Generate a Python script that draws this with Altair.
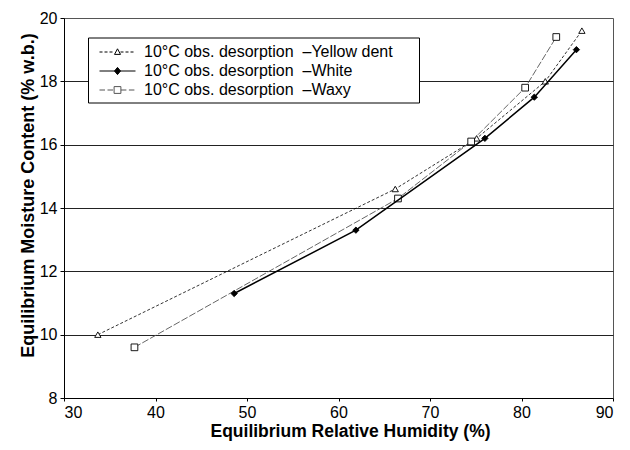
import altair as alt
import pandas as pd

series_names = ["Yellow dent", "White", "Waxy"]

yellow_rh = [33.7, 66.2, 75.1, 82.6, 86.6]
yellow_emc = [10.0, 14.6, 16.2, 18.0, 19.6]

white_rh = [48.6, 61.9, 76.0, 81.4, 86.0]
white_emc = [11.3, 13.3, 16.2, 17.5, 19.0]

waxy_rh = [37.7, 66.5, 74.5, 80.4, 83.8]
waxy_emc = [9.6, 14.3, 16.1, 17.8, 19.4]

x_ticks = [30, 40, 50, 60, 70, 80, 90]
y_ticks = [8, 10, 12, 14, 16, 18, 20]

rows = []
for name, xs, ys in zip(series_names, [yellow_rh, white_rh, waxy_rh], [yellow_emc, white_emc, waxy_emc]):
    for a, b in zip(xs, ys):
        rows.append({"series": name, "rh": a, "emc": b})
df = pd.DataFrame(rows)

FONT = "Liberation Sans"


# legend symbol paths (unit coords, scaled by sqrt(size)/2): line + marker
def dashed(x0, x1, dash, gap):
    out = []
    p = x0
    while p < x1 - 1e-9:
        q = min(p + dash, x1)
        out.append(f"M{p:.3f},0H{q:.3f}")
        p = q + gap
    return "".join(out)

L0, L1, MC = -1.0, 2.6, 0.8
tri = f"M{MC},-0.32L{MC+0.3},0.24L{MC-0.3},0.24Z"
dia = f"M{MC},-0.36L{MC+0.3},0L{MC},0.36L{MC-0.3},0Z"
sq = f"M{MC-0.34},-0.34H{MC+0.34}V0.34H{MC-0.34}Z"
path_yellow = dashed(L0, MC - 0.3, 0.3, 0.2) + dashed(MC + 0.3, L1, 0.3, 0.2) + tri
path_white = f"M{L0},0H{L1}" + dia
path_waxy = dashed(L0, MC - 0.34, 0.55, 0.25) + dashed(MC + 0.34, L1, 0.55, 0.25) + sq

x_enc = alt.X(
    "rh:Q",
    scale=alt.Scale(domain=[30, 90], nice=False),
    axis=alt.Axis(
        values=x_ticks, grid=False, title="Equilibrium Relative Humidity (%)",
        tickSize=3, labelPadding=3, titleX=286, titleY=38.5, titleFontSize=17.5,
        titleBaseline="alphabetic", titleAlign="center",
    ),
)
y_enc = alt.Y(
    "emc:Q",
    scale=alt.Scale(domain=[8, 20], nice=False),
    axis=alt.Axis(
        values=y_ticks, grid=True, gridColor="#222",
        gridOpacity={"condition": {"test": "datum.value === 20 || datum.value === 8", "value": 0}, "value": 1},
        title="Equilibrium Moisture Content (% w.b.)", titleFontSize=18,
        tickSize=4, labelPadding=3, titleX=-31, titleY=177,
        titleBaseline="alphabetic", titleAlign="center",
    ),
)

base = alt.Chart(df)


def series_layers(name, line_color, line_width, dash, shape, fill, size):
    b = base.transform_filter(alt.datum.series == name)
    lk = dict(color=line_color, strokeWidth=line_width)
    if dash:
        lk["strokeDash"] = dash
    line = b.mark_line(**lk).encode(x=x_enc, y=y_enc)
    pts = b.mark_point(shape=shape, filled=True, fill=fill, stroke="black",
                       strokeWidth=0.9, size=size, opacity=1).encode(x=x_enc, y=y_enc)
    return [line, pts]


layers = []
layers += series_layers("Yellow dent", "black", 0.8, [3, 2], "triangle-up", "white", 40)
layers += series_layers("Waxy", "#555", 0.9, [7, 2], "square", "white", 45)
layers += series_layers("White", "black", 1.5, None, "diamond", "black", 40)

leg = alt.Legend(
    title=None, orient="none", legendX=24, legendY=19.5,
    padding=4, strokeColor="black", fillColor="white",
    symbolSize=400, symbolStrokeWidth=1, symbolOpacity=1, symbolOffset=7,
    labelOffset=24, rowPadding=0, labelLimit=500,
    labelFont=FONT, labelFontSize=16, labelColor="black",
    labelExpr="'10°C obs. desorption\u00a0\u00a0–' + datum.label + '\u00a0\u00a0\u00a0\u00a0\u00a0\u200b'",
)

legend_layer = base.mark_point(filled=True, opacity=0, size=400).encode(
    x=x_enc, y=y_enc,
    shape=alt.Shape("series:N", scale=alt.Scale(domain=series_names, range=[path_yellow, path_white, path_waxy]), legend=leg),
    fill=alt.Fill("series:N", scale=alt.Scale(domain=series_names, range=["white", "black", "white"]), legend=leg),
    stroke=alt.Stroke("series:N", scale=alt.Scale(domain=series_names, range=["black", "black", "#555"]), legend=leg),
)

chart = alt.layer(*layers, legend_layer).properties(
    width=549, height=380,
    autosize=alt.AutoSizeParams(type="none"),
    padding={"left": 56, "top": 10, "right": 9, "bottom": 43},
).configure_view(stroke="#555", strokeWidth=1).configure_axis(
    domainColor="black", tickColor="black", labelColor="black", titleColor="black",
    labelFont=FONT, titleFont=FONT, labelFontSize=16, titleFontSize=17,
    titleFontWeight="bold",
)

chart.save("out.html", embed_options={"renderer": "svg", "actions": False})
